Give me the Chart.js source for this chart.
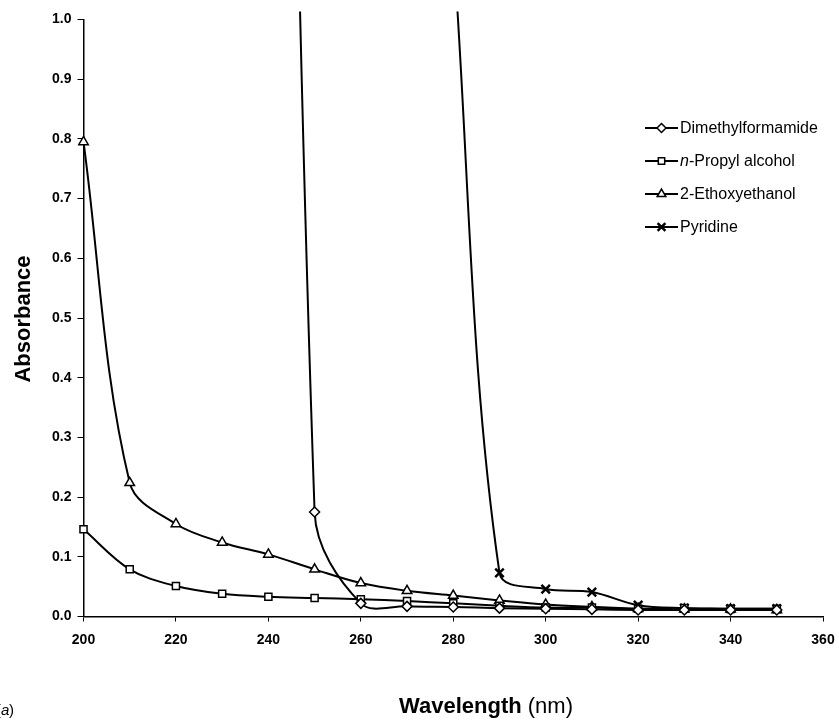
<!DOCTYPE html>
<html>
<head>
<meta charset="utf-8">
<script src="https://cdn.jsdelivr.net/npm/chart.js@4.4.1/dist/chart.umd.min.js"></script>
<style>
  html, body { margin: 0; padding: 0; background: #fff; }
  #wrap { width: 839px; height: 720px; position: relative; }
</style>
</head>
<body>
<div id="wrap"><canvas id="c" width="839" height="720"></canvas></div>
<script>
// longitudes de onda (nm)
const wavelengths = [200, 210, 220, 230, 240, 250, 260, 270, 280, 290, 300, 310, 320, 330, 340, 350];

// absorbancias (null = sin dato)
const dimethylformamide = [null, null, null, null, 4.5, 0.175, 0.022, 0.017, 0.016, 0.014, 0.013, 0.012, 0.011, 0.011, 0.011, 0.011];
const propylAlcohol = [0.146, 0.079, 0.051, 0.038, 0.033, 0.031, 0.029, 0.026, 0.022, 0.018, 0.015, 0.015, 0.013, 0.014, 0.013, 0.013];
const ethoxyethanol = [0.795, 0.224, 0.155, 0.124, 0.104, 0.079, 0.056, 0.043, 0.035, 0.027, 0.020, 0.016, 0.013, 0.012, 0.012, 0.011];
const pyridine = [null, null, null, null, null, null, null, null, 1.12, 0.073, 0.046, 0.041, 0.019, 0.014, 0.013, 0.013];

const xTicks = [200, 220, 240, 260, 280, 300, 320, 340, 360];
const yTicks = [0, 0.1, 0.2, 0.3, 0.4, 0.5, 0.6, 0.7, 0.8, 0.9, 1.0];

function toPoints(values) {
  const pts = [];
  values.forEach((v, i) => {
    if (v !== null) pts.push({ x: wavelengths[i], y: v });
  });
  return pts;
}

function serie(label, values, style, radius) {
  return {
    label: label,
    data: toPoints(values),
    borderColor: '#000',
    borderWidth: 2,
    backgroundColor: '#fff',
    pointStyle: style,
    pointRadius: radius,
    pointBorderWidth: style === 'crossRot' ? 2.5 : 1.5,
    pointBorderColor: '#000',
    pointBackgroundColor: '#fff',
    tension: 0.35,
    fill: false,
    clip: { left: 6, top: 8, right: 6, bottom: 6 }
  };
}

const FONT = '"Liberation Sans", Arial, sans-serif';

// leyenda y títulos dibujados a mano
const decoPlugin = {
  id: 'deco',
  afterDraw(chart) {
    const ctx = chart.ctx;
    ctx.save();

    // leyenda
    const lx = 645, ly0 = 128, step = 33;
    chart.data.datasets.forEach((ds, i) => {
      const y = ly0 + i * step;
      ctx.strokeStyle = '#000';
      ctx.lineWidth = 2;
      ctx.beginPath();
      ctx.moveTo(lx, y);
      ctx.lineTo(lx + 33, y);
      ctx.stroke();
      ctx.fillStyle = '#fff';
      ctx.strokeStyle = '#000';
      ctx.lineWidth = ds.pointBorderWidth;
      Chart.helpers.drawPoint(ctx, { pointStyle: ds.pointStyle, radius: ds.pointRadius - 0.5, rotation: 0, borderWidth: ds.pointBorderWidth }, lx + 16.5, y);

      ctx.fillStyle = '#000';
      ctx.textBaseline = 'middle';
      ctx.textAlign = 'left';
      let tx = lx + 35;
      if (ds.label === 'n-Propyl alcohol') {
        ctx.font = 'italic 16px ' + FONT;
        ctx.fillText('n', tx, y + 1);
        tx += ctx.measureText('n').width;
        ctx.font = '16px ' + FONT;
        ctx.fillText('-Propyl alcohol', tx, y + 1);
      } else {
        ctx.font = '16px ' + FONT;
        ctx.fillText(ds.label, tx, y + 1);
      }
    });

    // título eje x
    ctx.fillStyle = '#000';
    ctx.textBaseline = 'middle';
    ctx.textAlign = 'left';
    ctx.font = 'bold 22px ' + FONT;
    const w1 = ctx.measureText('Wavelength').width;
    ctx.font = '22px ' + FONT;
    const w2 = ctx.measureText(' (nm)').width;
    let sx = 486 - (w1 + w2) / 2;
    ctx.font = 'bold 22px ' + FONT;
    ctx.fillText('Wavelength', sx, 707);
    ctx.font = '22px ' + FONT;
    ctx.fillText(' (nm)', sx + w1, 707);

    // título eje y
    ctx.save();
    ctx.translate(24, 319);
    ctx.rotate(-Math.PI / 2);
    ctx.textAlign = 'center';
    ctx.font = 'bold 22px ' + FONT;
    ctx.fillText('Absorbance', 0, 0);
    ctx.restore();

    // etiqueta del panel
    ctx.font = '15px ' + FONT;
    ctx.fillText('(', -4, 711);
    ctx.font = 'italic 15px ' + FONT;
    ctx.fillText('a', 1, 711);
    ctx.font = '15px ' + FONT;
    ctx.fillText(')', 9, 711);

    ctx.restore();
  }
};

const chart = new Chart(document.getElementById('c').getContext('2d'), {
  type: 'line',
  data: {
    datasets: [
      serie('Dimethylformamide', dimethylformamide, 'rectRot', 5),
      serie('n-Propyl alcohol', propylAlcohol, 'rect', 5),
      serie('2-Ethoxyethanol', ethoxyethanol, 'triangle', 5.5),
      serie('Pyridine', pyridine, 'crossRot', 6)
    ]
  },
  options: {
    responsive: false,
    animation: false,
    devicePixelRatio: 1,
    layout: { padding: { top: 19.5, right: 16, left: 0, bottom: 0 } },
    plugins: {
      legend: { display: false },
      tooltip: { enabled: false }
    },
    scales: {
      x: {
        type: 'linear',
        min: 200,
        max: 360,
        afterBuildTicks(scale) { scale.ticks = xTicks.map(v => ({ value: v })); },
        afterFit(scale) { scale.height = 103.5; scale.paddingRight = 0; },
        grid: { drawOnChartArea: false, drawTicks: true, tickLength: 5, color: '#000', tickColor: '#000' },
        border: { display: true, color: '#000', width: 1.5 },
        ticks: {
          color: '#000',
          font: { family: FONT, size: 14, weight: 'bold' },
          padding: 10,
          maxRotation: 0,
          callback: v => String(v)
        }
      },
      y: {
        type: 'linear',
        min: 0,
        max: 1,
        afterBuildTicks(scale) { scale.ticks = yTicks.map(v => ({ value: v })); },
        afterFit(scale) { scale.width = 83.5; },
        grid: { drawOnChartArea: false, drawTicks: true, tickLength: 6, color: '#000', tickColor: '#000' },
        border: { display: true, color: '#000', width: 1.5 },
        ticks: {
          color: '#000',
          font: { family: FONT, size: 14, weight: 'bold' },
          padding: 6,
          callback: v => v.toFixed(1)
        }
      }
    }
  },
  plugins: [decoPlugin]
});
</script>
</body>
</html>
